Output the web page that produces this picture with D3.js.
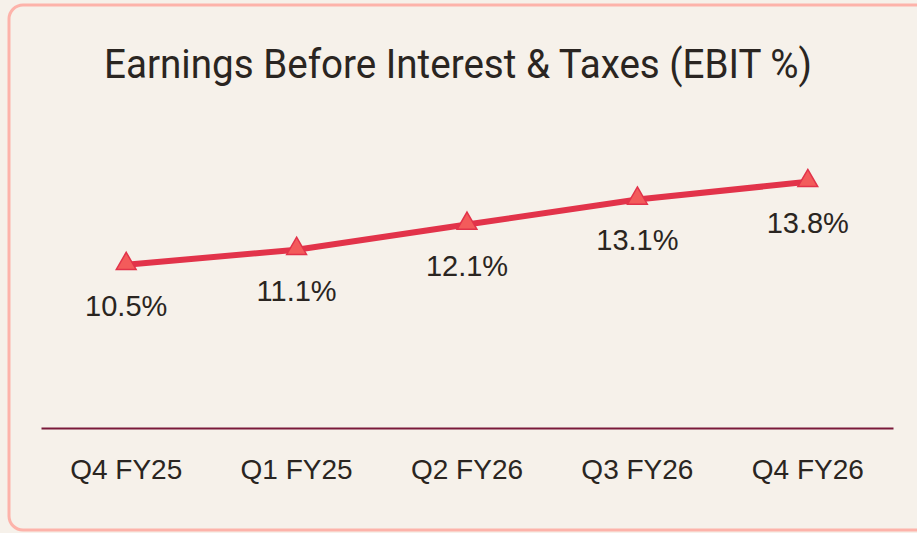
<!DOCTYPE html>
<html>
<head>
<meta charset="utf-8">
<script src="https://cdn.jsdelivr.net/npm/d3@7"></script>
<style>
  html, body { margin: 0; padding: 0; background: #f6f1ea; }
  svg { display: block; }
</style>
</head>
<body>
<div id="chart"></div>
<script>
var quarters = ['Q4 FY25', 'Q1 FY25', 'Q2 FY26', 'Q3 FY26', 'Q4 FY26'];
var ebit = [10.5, 11.1, 12.1, 13.1, 13.8];
var title = 'Earnings Before Interest & Taxes (EBIT %)';

var width = 917, height = 533;

var svg = d3.select('#chart').append('svg')
            .attr('width', width)
            .attr('height', height);

// card behind everything
svg.append('rect')
   .attr('x', 9).attr('y', 5)
   .attr('width', 930).attr('height', 525)
   .attr('rx', 14)
   .attr('fill', '#f6f1ea')
   .attr('stroke', '#fdb3aa')
   .attr('stroke-width', 3);

svg.append('text')
   .attr('x', 458).attr('y', 78)
   .attr('text-anchor', 'middle')
   .attr('font-family', 'Roboto, sans-serif')
   .attr('font-size', 41)
   .attr('fill', '#2a2521')
   .attr('textLength', 708)
   .attr('lengthAdjust', 'spacingAndGlyphs')
   .text(title);

var x = d3.scaleBand().domain(quarters).range([41, 893]).padding(0);
var y = d3.scaleLinear().domain([4, 16]).range([428, 126.6]);

var xAxis = svg.append('g')
               .attr('transform', 'translate(0,428)')
               .call(d3.axisBottom(x).tickSize(0).tickPadding(31));
xAxis.select('.domain')
     .attr('stroke', '#7a1a3a')
     .attr('stroke-width', 2);
xAxis.selectAll('text')
     .attr('font-family', 'Liberation Sans, Arial, sans-serif')
     .attr('font-size', 28)
     .attr('fill', '#2a2521');

var cx = function(d, i) { return x(quarters[i]) + x.bandwidth() / 2; };

var line = d3.line()
             .x(cx)
             .y(function(d) { return y(d); });

svg.append('path')
   .datum(ebit)
   .attr('d', line)
   .attr('fill', 'none')
   .attr('stroke', '#e2334a')
   .attr('stroke-width', 6);

var tri = d3.symbol().type(d3.symbolTriangle).size(170);

svg.selectAll('.marker')
   .data(ebit)
   .enter().append('path')
   .attr('class', 'marker')
   .attr('d', tri)
   .attr('transform', function(d, i) { return 'translate(' + cx(d, i) + ',' + (y(d) - 1) + ')'; })
   .attr('fill', '#f35b5b')
   .attr('stroke', '#e2334a')
   .attr('stroke-width', 1.5);

svg.selectAll('.label')
   .data(ebit)
   .enter().append('text')
   .attr('class', 'label')
   .attr('x', cx)
   .attr('y', function(d) { return y(d) + 51; })
   .attr('text-anchor', 'middle')
   .attr('font-family', 'Liberation Sans, Arial, sans-serif')
   .attr('font-size', 29)
   .attr('fill', '#2a2521')
   .text(function(d) { return d.toFixed(1) + '%'; });
</script>
</body>
</html>
